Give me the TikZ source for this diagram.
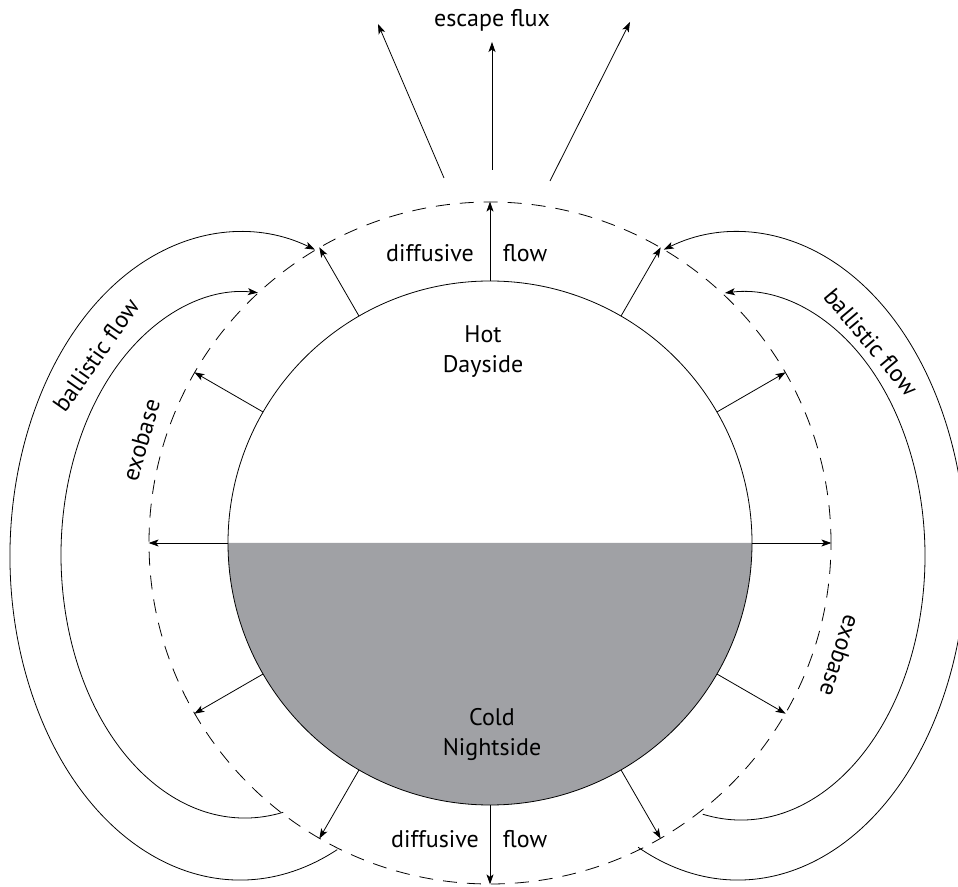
\documentclass[tikz,border=0pt]{standalone}
\usepackage{fontspec}
\setmainfont{PT Sans}
\usetikzlibrary{arrows.meta,calc}
\definecolor{nightgray}{RGB}{160,161,165}
\begin{document}
\begin{tikzpicture}[x=1pt,y=1pt,
  line width=0.8pt,
  flowarrow/.style={-{Stealth[length=10pt,width=7pt,inset=2.5pt]}},
  lbl/.style={font=\fontsize{24}{30}\selectfont, inner sep=0pt},
  exostyle/.style={circle, draw, dash pattern=on 14pt off 10pt, minimum size=682pt, inner sep=0pt},
  planetstyle/.style={circle, draw, minimum size=524pt, inner sep=0pt}]
\clip (0,0) rectangle (958,886);
% night side fill
\fill[nightgray] (228,343) arc[start angle=180, end angle=360, radius=262pt];
\node[planetstyle] (planet) at (490,343) {};
\node[exostyle] (exo) at (490,343) {};
% diffusive flow arrows
\foreach \a in {0,30,...,330} \draw[flowarrow] (planet.\a) -- (exo.\a);
% escape flux
\coordinate (e1s) at (444,708); \coordinate (e1e) at (378,862);
\coordinate (e2s) at (492,716); \coordinate (e2e) at (492,844);
\coordinate (e3s) at (550,705); \coordinate (e3e) at (630,864);
\draw[flowarrow] (e1s) -- (e1e);
\draw[flowarrow] (e2s) -- (e2e);
\draw[flowarrow] (e3s) -- (e3e);
% ballistic flow arcs
\coordinate (lo) at ($(240,330)+(-65:230pt and 324pt)$);
\draw[flowarrow] (lo) arc[start angle=-65, end angle=-289, x radius=230pt, y radius=324pt];
\coordinate (li) at ($(245,331)+(-78:184pt and 263pt)$);
\draw[flowarrow] (li) arc[start angle=-78, end angle=-274, x radius=184pt, y radius=263pt];
\coordinate (ro) at ($(738,330)+(-116:228pt and 324pt)$);
\draw[flowarrow] (ro) arc[start angle=-116, end angle=109, x radius=228pt, y radius=324pt];
\coordinate (ri) at ($(741,330)+(-102:184pt and 264pt)$);
\draw[flowarrow] (ri) arc[start angle=-102, end angle=95, x radius=184pt, y radius=264pt];
% labels
\node[lbl, anchor=base] (esc) at (492,859) {escape flux};
\node[lbl, anchor=base] (dt) at (430,624) {diffusive};
\node[lbl, anchor=base] (ft) at (525,624) {flow};
\node[lbl, anchor=base] (db) at (435,39) {diffusive};
\node[lbl, anchor=base] (fb) at (525,39) {flow};
\node[lbl, align=center] (hot) at (483,534.5) {Hot\\Dayside};
\node[lbl, align=center] (cold) at (492,151) {Cold\\Nightside};
\node[lbl, rotate=55] (bl) at (96,531) {ballistic flow};
\node[lbl, rotate=74] (el) at (141,446) {exobase};
\node[lbl, rotate=-50] (br) at (871,544) {ballistic flow};
\node[lbl, rotate=-108] (er) at (840,230) {exobase};
\end{tikzpicture}
\end{document}
